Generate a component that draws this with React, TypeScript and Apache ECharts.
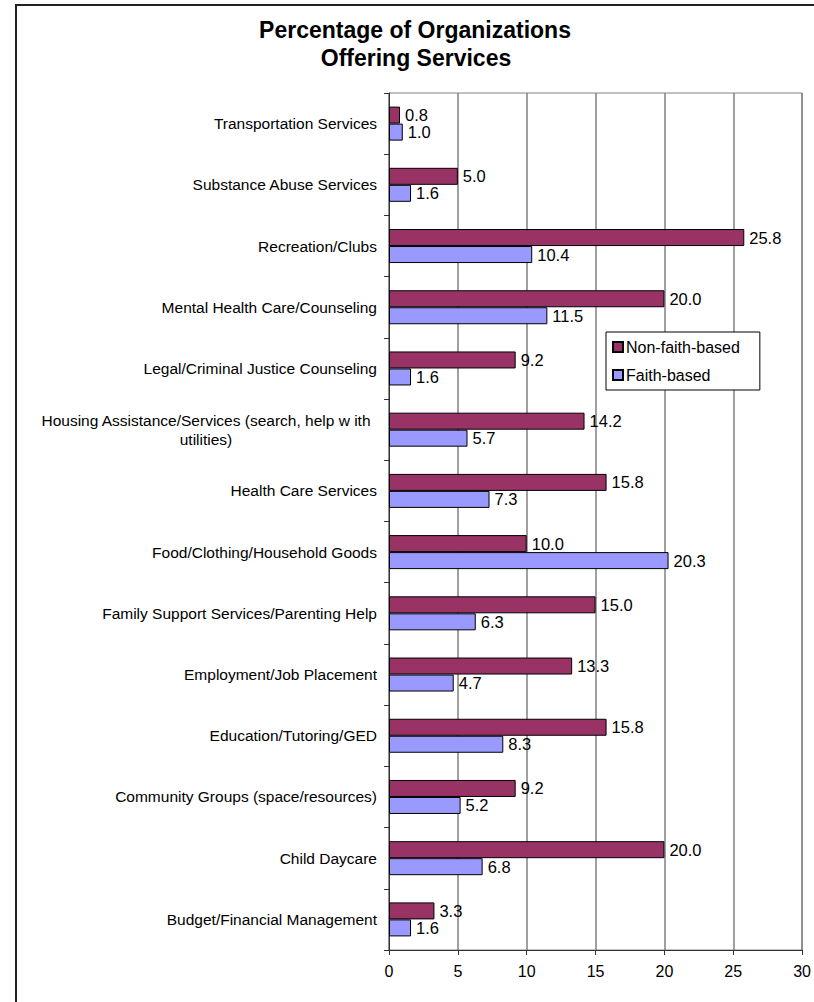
import React, { useEffect, useRef } from "react";
import * as echarts from "echarts";

const categories = [
  "Transportation Services",
  "Substance Abuse Services",
  "Recreation/Clubs",
  "Mental Health Care/Counseling",
  "Legal/Criminal Justice Counseling",
  "Housing Assistance/Services (search, help w ith utilities)",
  "Health Care Services",
  "Food/Clothing/Household Goods",
  "Family Support Services/Parenting Help",
  "Employment/Job Placement",
  "Education/Tutoring/GED",
  "Community Groups (space/resources)",
  "Child Daycare",
  "Budget/Financial Management",
];

const nonFaithBased = [0.8, 5.0, 25.8, 20.0, 9.2, 14.2, 15.8, 10.0, 15.0, 13.3, 15.8, 9.2, 20.0, 3.3];
const faithBased = [1.0, 1.6, 10.4, 11.5, 1.6, 5.7, 7.3, 20.3, 6.3, 4.7, 8.3, 5.2, 6.8, 1.6];

const seriesNames = ["Non-faith-based", "Faith-based"];
const titleLines = ["Percentage of Organizations", "Offering Services"];

const FONT = "'Liberation Sans', Arial, sans-serif";

export default function App() {
  const ref = useRef<HTMLDivElement>(null);

  useEffect(() => {
    if (!ref.current) return;
    const chart = echarts.init(ref.current, undefined, { renderer: "svg" });

    const labelStyle = {
      show: true,
      position: "right" as const,
      distance: 5,
      color: "#000",
      fontFamily: FONT,
      fontSize: 16.5,
      formatter: (p: any) => Number(p.value).toFixed(1),
    };

    chart.setOption({
      animation: false,
      backgroundColor: "#fff",
      textStyle: { fontFamily: FONT },
      graphic: [
        {
          type: "rect",
          shape: { x: 16, y: 5, width: 900, height: 1100 },
          style: { fill: "none", stroke: "#222", lineWidth: 2 },
          silent: true,
          z: 100,
        },
        {
          type: "text",
          x: 415,
          y: 30,
          style: {
            text: titleLines[0],
            fontFamily: FONT,
            fontSize: 23,
            fontWeight: "bold",
            fill: "#000",
            textAlign: "center",
            textVerticalAlign: "middle",
          },
        },
        {
          type: "text",
          x: 416,
          y: 58,
          style: {
            text: titleLines[1],
            fontFamily: FONT,
            fontSize: 23,
            fontWeight: "bold",
            fill: "#000",
            textAlign: "center",
            textVerticalAlign: "middle",
          },
        },
      ],
      legend: {
        orient: "vertical",
        left: 606,
        top: 332,
        width: 158,
        backgroundColor: "#fff",
        borderColor: "#000",
        borderWidth: 1,
        padding: [7, 20, 7, 6],
        itemWidth: 10,
        itemHeight: 10,
        itemGap: 12,
        icon: "rect",
        textStyle: { fontFamily: FONT, fontSize: 16, color: "#000", padding: [0, 0, 0, -2] },
        data: seriesNames,
      },
      grid: {
        left: 389,
        top: 93,
        width: 414,
        height: 857,
        show: true,
        borderColor: "#808080",
        borderWidth: 1,
        containLabel: false,
      },
      xAxis: {
        type: "value",
        min: 0,
        max: 30,
        interval: 5,
        axisLine: { show: true, lineStyle: { color: "#333", width: 1 } },
        axisTick: { show: true, length: 5, lineStyle: { color: "#333" } },
        axisLabel: { color: "#000", fontFamily: FONT, fontSize: 16, margin: 13 },
        splitLine: { show: true, lineStyle: { color: "#808080", width: 1.5 } },
      },
      yAxis: {
        type: "category",
        inverse: true,
        data: categories,
        axisLine: { show: true, lineStyle: { color: "#333", width: 1 } },
        axisTick: { show: true, length: 5, lineStyle: { color: "#333" } },
        axisLabel: {
          color: "#000",
          fontFamily: FONT,
          fontSize: 15.5,
          margin: 12,
          formatter: (v: string) => {
            if (v.startsWith("Housing")) {
              return "{c|Housing Assistance/Services (search, help w ith}\n{c|utilities)}";
            }
            return v;
          },
          rich: {
            c: {
              width: 342,
              align: "center",
              fontFamily: FONT,
              fontSize: 15.5,
              color: "#000",
              lineHeight: 19,
            },
          },
        },
      },
      series: [
        {
          name: seriesNames[0],
          type: "bar",
          data: nonFaithBased,
          barWidth: 17,
          barGap: "0%",
          itemStyle: { color: "#993366", borderColor: "#000", borderWidth: 1 },
          label: labelStyle,
        },
        {
          name: seriesNames[1],
          type: "bar",
          data: faithBased,
          barWidth: 17,
          barGap: "0%",
          itemStyle: { color: "#9999FF", borderColor: "#000", borderWidth: 1 },
          label: labelStyle,
        },
      ],
    });

    return () => chart.dispose();
  }, []);

  return (
    <div
      ref={ref}
      style={{ position: "fixed", left: 0, top: 0, width: 814, height: 1002 }}
    />
  );
}
